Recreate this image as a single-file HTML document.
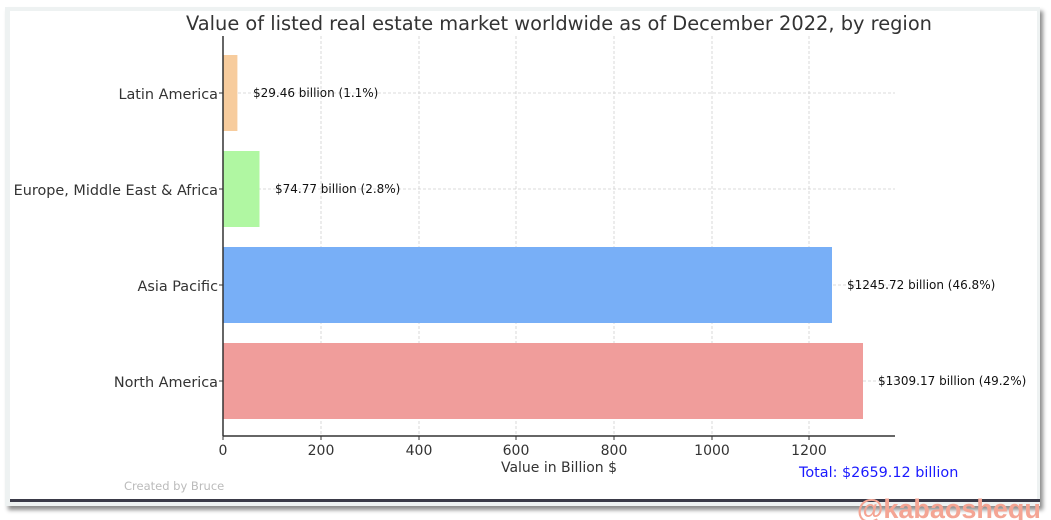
<!DOCTYPE html>
<html><head><style>
body{margin:0;width:1051px;height:520px;background:#fff;position:relative;overflow:hidden;font-family:"DejaVu Sans","Liberation Sans",sans-serif;}
.frame{position:absolute;left:5px;top:7px;width:1035px;height:499px;background:#eef2f2;box-shadow:3px 4px 4px rgba(0,0,0,0.45);}
.inner{position:absolute;left:10px;top:11px;width:1027px;height:489px;background:#fff;}
.dark{position:absolute;left:10px;top:499px;width:1030px;height:3px;background:#3a3a48;}
</style></head><body>
<div class="frame"></div><div class="inner"></div><div class="dark"></div>
<svg width="1051" height="520" style="position:absolute;left:0;top:0" font-family="DejaVu Sans, Liberation Sans, sans-serif">
<text x="559" y="30" text-anchor="middle" font-size="19.4" fill="#333">Value of listed real estate market worldwide as of December 2022, by region</text>
<g stroke="#d0d0d0" stroke-dasharray="3,2" stroke-width="0.8">
<line x1="321" y1="36" x2="321" y2="436"/><line x1="419" y1="36" x2="419" y2="436"/><line x1="516" y1="36" x2="516" y2="436"/><line x1="614" y1="36" x2="614" y2="436"/><line x1="712" y1="36" x2="712" y2="436"/><line x1="809" y1="36" x2="809" y2="436"/>
<line x1="223" y1="93" x2="895" y2="93"/><line x1="223" y1="189" x2="895" y2="189"/><line x1="223" y1="285" x2="895" y2="285"/><line x1="223" y1="381" x2="895" y2="381"/>
</g>
<rect x="223" y="55" width="14.4" height="76" fill="#f7cc9d"/>
<rect x="223" y="151" width="36.5" height="76" fill="#b0f7a2"/>
<rect x="223" y="247" width="609" height="76" fill="#78aff7"/>
<rect x="223" y="343" width="640" height="76" fill="#f09d9b"/>
<line x1="223" y1="36" x2="223" y2="436" stroke="#333" stroke-width="1.5"/>
<line x1="223" y1="436" x2="895" y2="436" stroke="#333" stroke-width="1.5"/>
<g stroke="#333"><line x1="219" y1="93" x2="223" y2="93"/><line x1="219" y1="189" x2="223" y2="189"/><line x1="219" y1="285" x2="223" y2="285"/><line x1="219" y1="381" x2="223" y2="381"/>
<line x1="223" y1="436" x2="223" y2="440"/><line x1="321" y1="436" x2="321" y2="440"/><line x1="419" y1="436" x2="419" y2="440"/><line x1="516" y1="436" x2="516" y2="440"/><line x1="614" y1="436" x2="614" y2="440"/><line x1="712" y1="436" x2="712" y2="440"/><line x1="809" y1="436" x2="809" y2="440"/></g>
<g font-size="14.4" fill="#333" text-anchor="end">
<text x="218" y="99">Latin America</text><text x="218" y="195">Europe, Middle East &amp; Africa</text><text x="218" y="291">Asia Pacific</text><text x="218" y="387">North America</text></g>
<g font-size="14" fill="#333" text-anchor="middle">
<text x="223" y="455">0</text><text x="321" y="455">200</text><text x="419" y="455">400</text><text x="516" y="455">600</text><text x="614" y="455">800</text><text x="712" y="455">1000</text><text x="809" y="455">1200</text>
<text x="559" y="472">Value in Billion $</text></g>
<g font-size="12" fill="#111">
<text x="253" y="97">$29.46 billion (1.1%)</text><text x="275" y="193">$74.77 billion (2.8%)</text><text x="847" y="289">$1245.72 billion (46.8%)</text><text x="878" y="385">$1309.17 billion (49.2%)</text></g>
<text x="799" y="477" font-size="14.4" fill="#1a1aff">Total: $2659.12 billion</text>
<text x="124" y="490" font-size="11.5" fill="#bbb">Created by Bruce</text>
<text x="857" y="518" font-size="27" font-weight="bold" fill="#f4a594" font-family="Liberation Sans, sans-serif">@kabaoshequ</text>
</svg>
</body></html>
